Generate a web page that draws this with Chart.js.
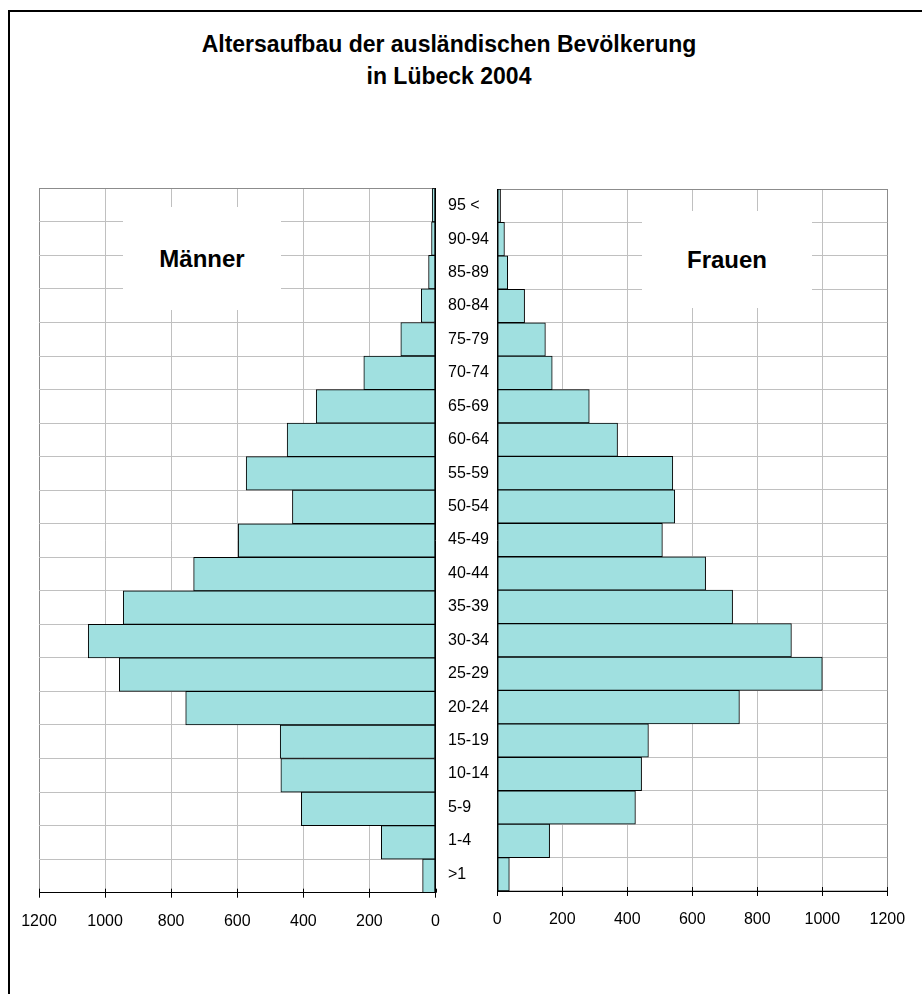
<!DOCTYPE html>
<html lang="de">
<head>
<meta charset="utf-8">
<title>Altersaufbau der ausländischen Bevölkerung in Lübeck 2004</title>
<script src="https://cdn.jsdelivr.net/npm/chart.js@4.4.1/dist/chart.umd.min.js"></script>
<style>
  html, body { margin: 0; padding: 0; background: #fff; }
  body { width: 922px; height: 994px; position: relative; overflow: hidden;
         font-family: 'Liberation Sans', Arial, Helvetica, sans-serif; color: #000; }
  .frame { position: absolute; left: 8px; top: 10px; width: 940px; height: 1010px;
           border-left: 2px solid #000; border-top: 2px solid #000; }
  .title { position: absolute; left: 0; width: 898px; top: 28px; text-align: center;
           font-weight: bold; font-size: 23px; line-height: 32px; }
  canvas { position: absolute; top: 0; }
  #menChart { left: 0; }
  #womenChart { left: 440px; }
  .tag { position: absolute; background: #fff; font-weight: bold; font-size: 24px;
         display: flex; align-items: center; justify-content: center; }
</style>
</head>
<body>
<div class="frame"></div>
<div class="title">Altersaufbau der ausländischen Bevölkerung<br>in Lübeck 2004</div>
<canvas id="menChart" width="470" height="994"></canvas>
<canvas id="womenChart" width="482" height="994"></canvas>
<div class="tag" style="left:123px; top:207px; width:158px; height:103px;">Männer</div>
<div class="tag" style="left:642px; top:211px; width:170px; height:97px;">Frauen</div>
<script>
// Age groups, oldest at the top
const ageGroups = ['95 <', '90-94', '85-89', '80-84', '75-79', '70-74', '65-69', '60-64',
  '55-59', '50-54', '45-49', '40-44', '35-39', '30-34', '25-29', '20-24', '15-19',
  '10-14', '5-9', '1-4', '>1'];

// Foreign residents per age group
const maleCounts = [10, 12, 21, 43, 105, 217, 361, 449, 573, 433, 597, 732, 945, 1051,
  957, 756, 470, 468, 406, 164, 39];
const femaleCounts = [10, 22, 32, 84, 148, 169, 283, 370, 540, 546, 508, 641, 724, 905,
  1000, 745, 465, 444, 425, 161, 37];

// Value axis ticks
const axisTicks = [0, 200, 400, 600, 800, 1000, 1200];

const FONT = "'Liberation Sans', Arial, Helvetica, sans-serif";
Chart.defaults.font.family = FONT;
Chart.defaults.color = '#000';

const BAR_FILL = '#a0e0e0';
const GRID = '#c0c0c0';
const EDGE = '#8c8c8c';

function valueScale(reverse) {
  return {
    type: 'linear',
    min: 0,
    max: 1200,
    reverse: reverse,
    afterBuildTicks: s => { s.ticks = axisTicks.map(v => ({ value: v })); },
    afterFit: s => { s.height = 40; },
    ticks: { font: { size: 16 }, color: '#000', padding: 14, maxRotation: 0,
             autoSkip: false, callback: v => String(v) },
    grid: {
      color: ctx => (ctx.tick && ctx.tick.value === 1200) ? EDGE : GRID,
      lineWidth: 1, drawTicks: true, tickLength: 5, tickColor: '#000'
    },
    border: { display: true, color: '#000', width: 1 }
  };
}

function ageScale(position, showLabels, width) {
  return {
    type: 'category',
    position: position,
    offset: true,
    afterFit: s => { s.width = width; },
    ticks: showLabels
      ? { display: true, font: { size: 16 }, color: '#000', crossAlign: 'far', padding: 0, autoSkip: false }
      : { display: false },
    grid: { offset: true, drawTicks: false,
            color: ctx => ctx.index === 0 ? EDGE : GRID },
    border: { display: true, color: '#000', width: 1 }
  };
}

function barSet(label, values) {
  return {
    label: label,
    data: values,
    backgroundColor: BAR_FILL,
    borderColor: '#000',
    borderWidth: 1,
    borderSkipped: false,
    barPercentage: 1,
    categoryPercentage: 1
  };
}

// Short tick marks on the inner side of the value axis as well
const innerTicks = {
  id: 'innerTicks',
  afterDraw(chart) {
    const x = chart.scales.x;
    const ctx = chart.ctx;
    ctx.save();
    ctx.strokeStyle = '#000';
    ctx.lineWidth = 1;
    ctx.beginPath();
    x.ticks.forEach(t => {
      const px = Math.round(x.getPixelForValue(t.value)) + 0.5;
      ctx.moveTo(px, x.top - 4);
      ctx.lineTo(px, x.top);
    });
    ctx.stroke();
    ctx.restore();
  }
};

function makeChart(id, label, values, reverse, padding, yPos, showLabels, yWidth) {
  return new Chart(document.getElementById(id), {
    type: 'bar',
    data: { labels: ageGroups, datasets: [barSet(label, values)] },
    options: {
      indexAxis: 'y',
      responsive: false,
      animation: false,
      layout: { padding: padding },
      plugins: { legend: { display: false }, title: { display: false }, tooltip: { enabled: false } },
      scales: { x: valueScale(reverse), y: ageScale(yPos, showLabels, yWidth) }
    },
    plugins: [innerTicks]
  });
}

makeChart('menChart', 'Männer', maleCounts, true,
  { left: 39, right: 34.5, top: 188.3, bottom: 61.3 }, 'right', false, 0);
makeChart('womenChart', 'Frauen', femaleCounts, false,
  { left: 8, right: 34.7, top: 189, bottom: 63 }, 'left', true, 49.3);
</script>
</body>
</html>
